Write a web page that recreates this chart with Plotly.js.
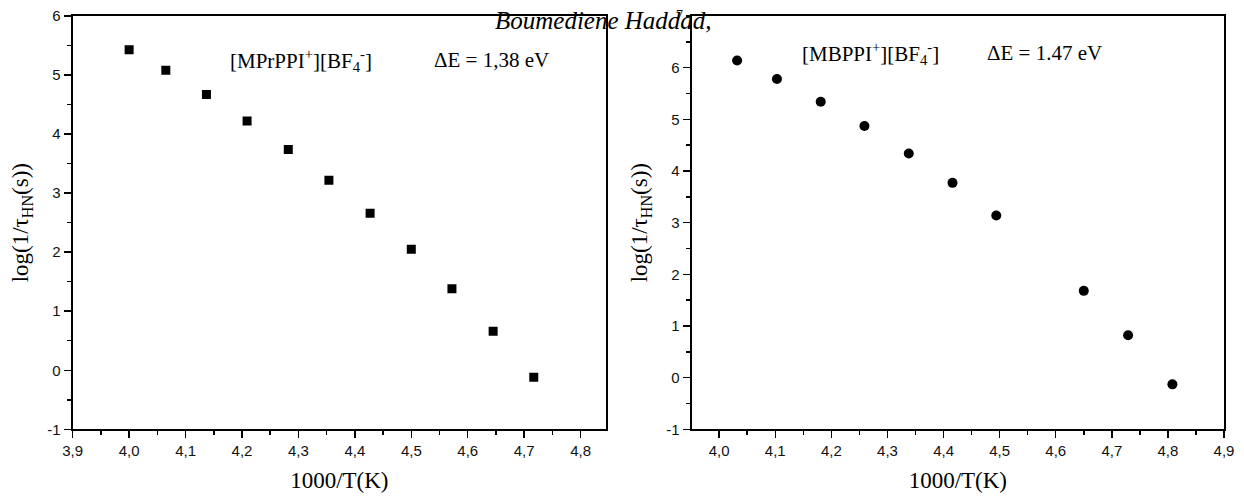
<!DOCTYPE html>
<html>
<head>
<meta charset="utf-8">
<script src="https://cdn.plot.ly/plotly-3.0.1.min.js"></script>
<style>html,body{margin:0;padding:0;background:#fff;}#chart{width:1244px;height:499px;}</style>
</head>
<body>
<div id="chart"></div>
<script>
// Left panel: [MPrPPI+][BF4-]
const xLeft = [4.000, 4.065, 4.137, 4.209, 4.282, 4.354, 4.427, 4.500, 4.572, 4.645, 4.717];
const yLeft = [5.43, 5.08, 4.67, 4.22, 3.74, 3.22, 2.66, 2.05, 1.38, 0.66, -0.12];
// Right panel: [MBPPI+][BF4-]
const xRight = [4.032, 4.103, 4.181, 4.259, 4.338, 4.416, 4.494, 4.650, 4.729, 4.808];
const yRight = [6.14, 5.78, 5.34, 4.87, 4.34, 3.77, 3.14, 1.68, 0.82, -0.13];

// Tick labels
const yTickValsLeft = [-1, 0, 1, 2, 3, 4, 5, 6];
const yTickTextLeft = ['-1', '0', '1', '2', '3', '4', '5', '6'];
const yTickValsRight = [-1, 0, 1, 2, 3, 4, 5, 6];
const yTickTextRight = ['-1', '0', '1', '2', '3', '4', '5', '6'];

const labelLeft = '[MPrPPI<sup>+</sup>][BF<sub>4</sub><sup>-</sup>]';
const energyLeft = '\u0394E = 1,38 eV';
const labelRight = '[MBPPI<sup>+</sup>][BF<sub>4</sub><sup>-</sup>]';
const energyRight = '\u0394E = 1.47 eV';
const headerText = 'Boumediene Haddad,';
const pageNumber = '7';
const xTitle = '1000/T(K)';
const yTitle = 'log(1/\u03c4<sub>HN</sub>(s))';

const serif = '"Liberation Serif", "Times New Roman", serif';
const sans = '"Liberation Sans", Arial, sans-serif';

const traces = [
  {x: xLeft, y: yLeft, type: 'scatter', mode: 'markers', xaxis: 'x', yaxis: 'y',
   marker: {symbol: 'square', size: 9, color: '#000'}, showlegend: false},
  {x: xRight, y: yRight, type: 'scatter', mode: 'markers', xaxis: 'x2', yaxis: 'y2',
   marker: {symbol: 'circle', size: 10, color: '#000'}, showlegend: false}
];

const L0 = 72.7/1244, L1 = 606/1244, R0 = 691.7/1244, R1 = 1224/1244;
const B = 1 - 429.3/499, T = 1 - 16/499;

function xax(domain, range, anchor) {
  return {domain: domain, range: range, anchor: anchor, dtick: 0.1, tick0: 3.9,
    ticks: 'outside', ticklen: 7, tickwidth: 1.5, tickcolor: '#000',
    minor: {dtick: 0.05, ticks: 'outside', ticklen: 4, tickwidth: 1.5, tickcolor: '#000'},
    showline: true, linewidth: 2, linecolor: '#000', mirror: true, showgrid: false, zeroline: false,
    tickfont: {family: sans, size: 15, color: '#111'}, tickformat: '.1f',
    title: {text: xTitle, font: {family: serif, size: 23, color: '#000'}, standoff: 14}};
}
function yax(domain, range, anchor, vals, text) {
  return {domain: domain, range: range, anchor: anchor, tickmode: 'array', tickvals: vals, ticktext: text,
    ticks: 'outside', ticklen: 7, tickwidth: 1.5, tickcolor: '#000',
    minor: {dtick: 0.5, ticks: 'outside', ticklen: 4, tickwidth: 1.5, tickcolor: '#000'},
    showline: true, linewidth: 2, linecolor: '#000', mirror: true, showgrid: false, zeroline: false,
    tickfont: {family: sans, size: 15, color: '#111'},
    title: {text: yTitle, font: {family: serif, size: 23, color: '#000'}, standoff: 12}};
}

const annFont = {family: serif, size: 21, color: '#000'};
const layout = {
  width: 1244, height: 499,
  margin: {l: 0, r: 0, t: 0, b: 0},
  paper_bgcolor: '#fff', plot_bgcolor: '#fff',
  separators: ',.',
  showlegend: false,
  xaxis: xax([L0, L1], [3.9, 4.845], 'y'),
  yaxis: yax([B, T], [-1, 6], 'x', yTickValsLeft, yTickTextLeft),
  xaxis2: xax([R0, R1], [3.951, 4.9], 'y2'),
  yaxis2: yax([B, T], [-1, 7], 'x2', yTickValsRight, yTickTextRight),
  annotations: [
    {xref: 'x', yref: 'y', x: 4.305, y: 5.25, text: labelLeft, showarrow: false, font: annFont},
    {xref: 'x', yref: 'y', x: 4.642, y: 5.25, text: energyLeft, showarrow: false, font: annFont},
    {xref: 'x2', yref: 'y2', x: 4.27, y: 6.28, text: labelRight, showarrow: false, font: annFont},
    {xref: 'x2', yref: 'y2', x: 4.58, y: 6.28, text: energyRight, showarrow: false, font: annFont},
    {xref: 'paper', yref: 'paper', x: 603.5/1244, y: 1 - 20/499, xanchor: 'center', yanchor: 'middle',
     text: '<i>' + headerText + '</i>', showarrow: false, font: {family: serif, size: 25, color: '#000'}},
    {xref: 'paper', yref: 'paper', x: 679/1244, y: 1 - 15/499, xanchor: 'center', yanchor: 'middle',
     text: pageNumber, showarrow: false, font: {family: serif, size: 14, color: '#000'}}
  ]
};

Plotly.newPlot('chart', traces, layout, {displayModeBar: false, staticPlot: true});
</script>
</body>
</html>
